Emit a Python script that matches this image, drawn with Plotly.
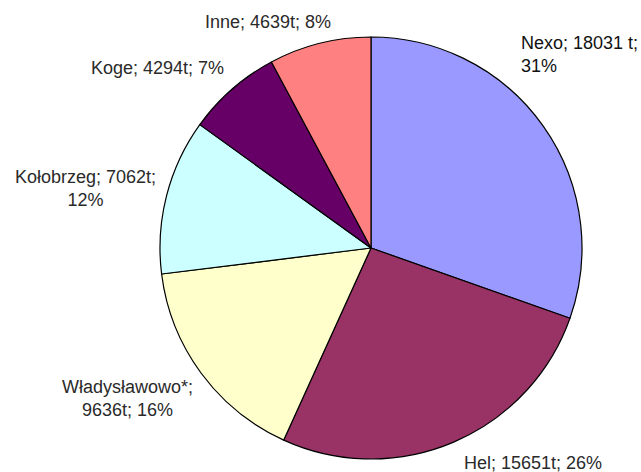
import plotly.graph_objects as go

W, H = 641, 472

# Catch by landing port (tonnes) and the shares quoted in the labels
ports = ["Nexo", "Hel", "Władysławowo*", "Kołobrzeg", "Koge", "Inne"]
tonnes = [18031, 15651, 9636, 7062, 4294, 4639]
shares = [31, 26, 16, 12, 7, 8]
colors = ["#9999FF", "#993366", "#FFFFCC", "#CCFFFF", "#660066", "#FF8080"]

# How each label is broken over lines
label_fmt = [
    "{p}; {t} t;<br>{s}%",
    "{p}; {t}t; {s}%",
    "{p};<br>{t}t; {s}%",
    "{p}; {t}t;<br>{s}%",
    "{p}; {t}t; {s}%",
    "{p}; {t}t; {s}%",
]

# Label placement in pixels: (x, y, anchor)
label_pos = [
    (519, 54, "left"),
    (533, 463, "center"),
    (127, 398, "center"),
    (85, 188, "center"),
    (157, 68, "center"),
    (268, 22, "center"),
]

# Pie occupies a square of radius 211 centred at (371, 248)
cx, cy, r = 371, 248, 211

fig = go.Figure(
    go.Pie(
        labels=ports,
        values=tonnes,
        sort=False,
        direction="clockwise",
        rotation=0,
        marker=dict(colors=colors, line=dict(color="black", width=1.2)),
        textinfo="none",
        hoverinfo="label+value",
        showlegend=False,
        domain=dict(
            x=[(cx - r) / W, (cx + r) / W],
            y=[1 - (cy + r) / H, 1 - (cy - r) / H],
        ),
    )
)

annotations = []
for p, t, s, fmt, (px, py, anchor) in zip(ports, tonnes, shares, label_fmt, label_pos):
    annotations.append(
        dict(
            text=fmt.format(p=p, t=t, s=s),
            x=px / W,
            y=1 - py / H,
            xref="paper",
            yref="paper",
            xanchor=anchor,
            yanchor="middle",
            align=anchor if anchor == "left" else "center",
            showarrow=False,
            font=dict(family="Liberation Sans, Arial, sans-serif", size=18,
                      color="#111111" if p == "Nexo" else "#2a2a2a"),
        )
    )

fig.update_layout(
    width=W,
    height=H,
    margin=dict(l=0, r=0, t=0, b=0),
    paper_bgcolor="white",
    plot_bgcolor="white",
    annotations=annotations,
)

fig.write_html("out.html")
